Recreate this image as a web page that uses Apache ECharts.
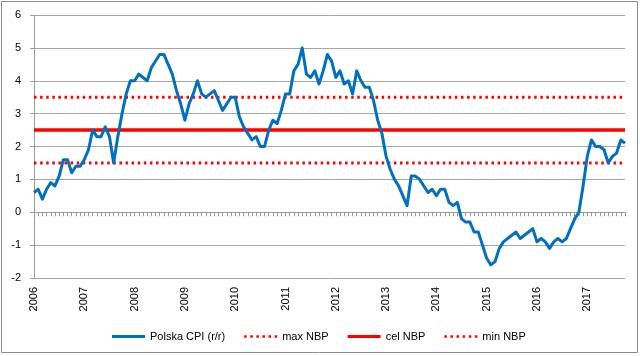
<!DOCTYPE html>
<html>
<head>
<meta charset="utf-8">
<script src="https://cdn.jsdelivr.net/npm/echarts@6/dist/echarts.min.js"></script>
<style>
html,body{margin:0;padding:0;background:#fff;}
#chart{width:640px;height:356px;}
</style>
</head>
<body>
<div id="chart"></div>
<script>
// Monthly CPI y/y (%), Jan 2006 – Oct 2017
var cpi2006 = [0.6, 0.7, 0.4, 0.7, 0.9, 0.8, 1.1, 1.6, 1.6, 1.2, 1.4, 1.4];
var cpi2007 = [1.6, 1.9, 2.5, 2.3, 2.3, 2.6, 2.3, 1.5, 2.3, 3.0, 3.6, 4.0];
var cpi2008 = [4.0, 4.2, 4.1, 4.0, 4.4, 4.6, 4.8, 4.8, 4.5, 4.2, 3.7, 3.3];
var cpi2009 = [2.8, 3.3, 3.6, 4.0, 3.6, 3.5, 3.6, 3.7, 3.4, 3.1, 3.3, 3.5];
var cpi2010 = [3.5, 2.9, 2.6, 2.4, 2.2, 2.3, 2.0, 2.0, 2.5, 2.8, 2.7, 3.1];
var cpi2011 = [3.6, 3.6, 4.3, 4.5, 5.0, 4.2, 4.1, 4.3, 3.9, 4.3, 4.8, 4.6];
var cpi2012 = [4.1, 4.3, 3.9, 4.0, 3.6, 4.3, 4.0, 3.8, 3.8, 3.4, 2.8, 2.4];
var cpi2013 = [1.7, 1.3, 1.0, 0.8, 0.5, 0.2, 1.1, 1.1, 1.0, 0.8, 0.6, 0.7];
var cpi2014 = [0.5, 0.7, 0.7, 0.3, 0.2, 0.3, -0.2, -0.3, -0.3, -0.6, -0.6, -1.0];
var cpi2015 = [-1.4, -1.6, -1.5, -1.1, -0.9, -0.8, -0.7, -0.6, -0.8, -0.7, -0.6, -0.5];
var cpi2016 = [-0.9, -0.8, -0.9, -1.1, -0.9, -0.8, -0.9, -0.8, -0.5, -0.2, 0.0, 0.8];
var cpi2017 = [1.7, 2.2, 2.0, 2.0, 1.9, 1.5, 1.7, 1.8, 2.2, 2.1];

var years = ['2006','2007','2008','2009','2010','2011','2012','2013','2014','2015','2016','2017'];
var monthCodes = ['01','02','03','04','05','06','07','08','09','10','11','12'];

var maxNBP = 3.5;
var celNBP = 2.5;
var minNBP = 1.5;

var yTicks = [-2, -1, 0, 1, 2, 3, 4, 5, 6];

var cpiValues = [].concat(cpi2006, cpi2007, cpi2008, cpi2009, cpi2010, cpi2011,
  cpi2012, cpi2013, cpi2014, cpi2015, cpi2016, cpi2017);

var categories = [];
years.forEach(function (y) {
  monthCodes.forEach(function (m) { categories.push(y + '-' + m); });
});
categories = categories.slice(0, cpiValues.length);

var maxLine = categories.map(function () { return maxNBP; });
var celLine = categories.map(function () { return celNBP; });
var minLine = categories.map(function () { return minNBP; });

var SOLID_ICON = 'path://M0,0H33V3H0Z';
var DOT_ICON = 'path://M0,0h2.5v2.5h-2.5z M6,0h2.5v2.5h-2.5z M12,0h2.5v2.5h-2.5z M18,0h2.5v2.5h-2.5z M24,0h2.5v2.5h-2.5z M30,0h2.5v2.5h-2.5z';

var FONT = 'Liberation Sans';
var chart = echarts.init(document.getElementById('chart'), null, {renderer: 'canvas'});
chart.setOption({
  animation: false,
  backgroundColor: '#fff',
  textStyle: {fontFamily: FONT},
  graphic: [{
    type: 'rect', silent: true, z: -1,
    shape: {x: 1.5, y: 1.5, width: 636, height: 351},
    style: {fill: 'none', stroke: '#8c8c8c', lineWidth: 1}
  }],
  grid: {left: 34, right: 15, top: 15, bottom: 78, containLabel: false},
  legend: {
    left: 107, top: 326,
    itemWidth: 33, itemHeight: 14, itemGap: 19,
    textStyle: {fontFamily: FONT, fontSize: 11, color: '#000'},
    data: [
      {name: 'Polska CPI (r/r)', icon: SOLID_ICON},
      {name: 'max NBP', icon: DOT_ICON},
      {name: 'cel NBP', icon: SOLID_ICON},
      {name: 'min NBP', icon: DOT_ICON}
    ]
  },
  xAxis: [{
    type: 'category', data: categories, boundaryGap: false,
    position: 'bottom',
    axisLine: {show: false, onZero: false},
    axisTick: {show: false},
    splitLine: {show: false},
    axisLabel: {
      interval: 11, rotate: 90, margin: 9,
      fontFamily: FONT, fontSize: 11, color: '#000',
      formatter: function (v) { return v.slice(0, 4); }
    }
  }, {
    type: 'category', data: categories, boundaryGap: false,
    position: 'bottom',
    axisLine: {show: true, onZero: true, lineStyle: {color: '#9a9a9a', width: 1}},
    axisTick: {show: true, interval: 0, length: 4, inside: false, lineStyle: {color: '#9a9a9a'}},
    axisLabel: {show: false},
    splitLine: {show: false}
  }],
  yAxis: {
    type: 'value', min: yTicks[0], max: yTicks[yTicks.length - 1], interval: 1,
    axisLine: {show: true, lineStyle: {color: '#9a9a9a', width: 1}},
    axisTick: {show: true, length: 4, lineStyle: {color: '#9a9a9a'}},
    splitLine: {show: true, lineStyle: {color: '#a6a6a6', width: 1}},
    axisLabel: {margin: 13, fontFamily: FONT, fontSize: 11, color: '#000'}
  },
  series: [{
    name: 'Polska CPI (r/r)', type: 'line', data: cpiValues, xAxisIndex: 0,
    symbol: 'none', smooth: false, z: 5,
    lineStyle: {color: '#0070C0', width: 3, join: 'round'},
    itemStyle: {color: '#0070C0'}
  }, {
    name: 'max NBP', type: 'line', data: maxLine, xAxisIndex: 0,
    symbol: 'none', z: 3,
    lineStyle: {color: '#ff0000', width: 3, type: [2.5, 3.6], cap: 'butt'},
    itemStyle: {color: '#ff0000'}
  }, {
    name: 'cel NBP', type: 'line', data: celLine, xAxisIndex: 0,
    symbol: 'none', z: 3,
    lineStyle: {color: '#ff0000', width: 3.5},
    itemStyle: {color: '#ff0000'}
  }, {
    name: 'min NBP', type: 'line', data: minLine, xAxisIndex: 0,
    symbol: 'none', z: 3,
    lineStyle: {color: '#ff0000', width: 3, type: [2.5, 3.6], cap: 'butt'},
    itemStyle: {color: '#ff0000'}
  }]
});
</script>
</body>
</html>
